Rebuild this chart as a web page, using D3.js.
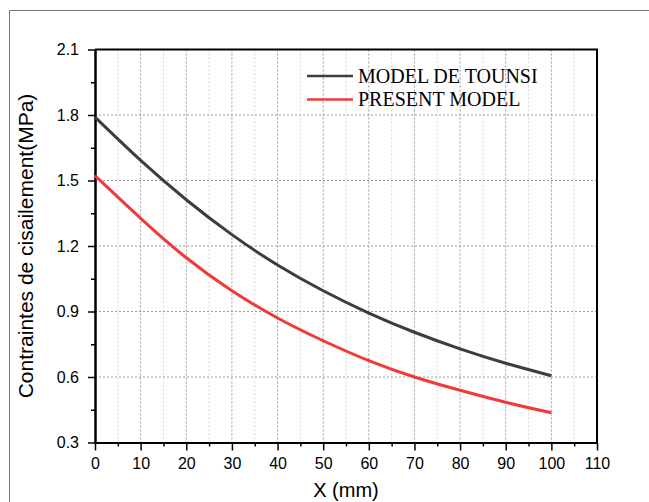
<!DOCTYPE html>
<html>
<head>
<meta charset="utf-8">
<script src="https://cdn.jsdelivr.net/npm/d3@7"></script>
<style>
  body { margin: 0; background: #fff; }
  svg { display: block; }
  .tick text { font-family: "Liberation Sans", Arial, sans-serif; font-size: 16px; fill: #000; }
</style>
</head>
<body>
<div id="chart"></div>
<script>
// data
var xValues = [0, 10, 20, 30, 40, 50, 60, 70, 80, 90, 100];
var tounsi  = [1.79, 1.592, 1.412, 1.252, 1.113, 0.995, 0.893, 0.805, 0.729, 0.663, 0.606];
var present = [1.522, 1.327, 1.146, 0.995, 0.870, 0.766, 0.675, 0.6, 0.539, 0.484, 0.436];

var seriesNames = ["MODEL DE TOUNSI", "PRESENT MODEL"];

var xTicks = [0, 10, 20, 30, 40, 50, 60, 70, 80, 90, 100, 110];
var xMinor = [5, 15, 25, 35, 45, 55, 65, 75, 85, 95, 105];
var yTicks = [0.3, 0.6, 0.9, 1.2, 1.5, 1.8, 2.1];
var yMinor = [0.45, 0.75, 1.05, 1.35, 1.65, 1.95];

var W = 649, H = 502;
var margin = {top: 49.5, right: 52, bottom: 59.5, left: 95};
var width = W - margin.left - margin.right,
    height = H - margin.top - margin.bottom;

var colBlack = "#3d3d3d", colRed = "#f03a3a";

var root = d3.select("#chart").append("svg")
  .attr("width", W)
  .attr("height", H);

// outer frame (only top and left show)
root.append("path")
  .attr("d", "M9.5," + H + "V10.5H" + W)
  .attr("fill", "none")
  .attr("stroke", "#777")
  .attr("stroke-width", 1);

var svg = root.append("g")
  .attr("transform", "translate(" + margin.left + "," + margin.top + ")");

var x = d3.scaleLinear().domain([0, 110]).range([0, width]);
var y = d3.scaleLinear().domain([0.3, 2.1]).range([height, 0]);

///////////////////////////// grid
svg.append("g")
  .selectAll("line")
  .data(xMinor)
  .join("line")
    .attr("x1", d => x(d)).attr("x2", d => x(d))
    .attr("y1", 0).attr("y2", height)
    .attr("stroke", "#d6d6d6")
    .attr("stroke-dasharray", "2,2");

svg.append("g")
  .selectAll("line")
  .data(xTicks.slice(1, -1))
  .join("line")
    .attr("x1", d => x(d)).attr("x2", d => x(d))
    .attr("y1", 0).attr("y2", height)
    .attr("stroke", "#9a9a9a")
    .attr("stroke-dasharray", "2,2");

svg.append("g")
  .selectAll("line")
  .data(yTicks.slice(1, -1))
  .join("line")
    .attr("x1", 0).attr("x2", width)
    .attr("y1", d => y(d)).attr("y2", d => y(d))
    .attr("stroke", "#9a9a9a")
    .attr("stroke-dasharray", "2,2");

///////////////////////////// axes
svg.append("g")
  .attr("transform", "translate(0," + height + ")")
  .call(d3.axisBottom(x).tickValues(xTicks).tickSize(8).tickPadding(7).tickSizeOuter(0));
svg.append("g")
  .attr("transform", "translate(0," + height + ")")
  .call(d3.axisBottom(x).tickValues(xMinor).tickSize(4).tickFormat("").tickSizeOuter(0));

svg.append("g")
  .call(d3.axisLeft(y).tickValues(yTicks).tickSize(7).tickPadding(9).tickSizeOuter(0)
    .tickFormat(d3.format(".1f")));
svg.append("g")
  .call(d3.axisLeft(y).tickValues(yMinor).tickSize(4).tickFormat("").tickSizeOuter(0));

svg.selectAll(".domain").attr("stroke", "#000").attr("stroke-width", 2);
svg.selectAll(".tick line").attr("stroke", "#000").attr("stroke-width", 1.5);

// top and right frame
svg.append("path")
  .attr("d", "M0,0H" + width + "V" + height)
  .attr("fill", "none")
  .attr("stroke", "#000")
  .attr("stroke-width", 2);

///////////////////////////// lines
var line = d3.line()
  .x(d => x(d[0]))
  .y(d => y(d[1]))
  .curve(d3.curveNatural);

[[tounsi, colBlack], [present, colRed]].forEach(function(s) {
  svg.append("path")
    .datum(xValues.map((v, i) => [v, s[0][i]]))
    .attr("fill", "none")
    .attr("stroke", s[1])
    .attr("stroke-width", 3)
    .attr("d", line);
});

///////////////////////////// legend
var legend = svg.append("g").attr("transform", "translate(" + (307 - margin.left) + "," + (76 - margin.top) + ")");
[[seriesNames[0], colBlack], [seriesNames[1], colRed]].forEach(function(s, i) {
  legend.append("line")
    .attr("x1", 0).attr("x2", 46)
    .attr("y1", i * 23.5).attr("y2", i * 23.5)
    .attr("stroke", s[1])
    .attr("stroke-width", 2.5);
  legend.append("text")
    .attr("x", 51)
    .attr("y", i * 23.5 + 6.5)
    .attr("font-family", "'Liberation Serif', 'Times New Roman', serif")
    .attr("font-size", "20px")
    .attr("fill", "#000")
    .text(s[0]);
});

///////////////////////////// axis titles
svg.append("text")
  .attr("x", width / 2)
  .attr("y", H - margin.top - 5)
  .attr("text-anchor", "middle")
  .attr("font-family", "'Liberation Sans', Arial, sans-serif")
  .attr("font-size", "20px")
  .text("X (mm)");

svg.append("text")
  .attr("transform", "translate(" + (33 - margin.left) + "," + (height / 2) + ") rotate(-90)")
  .attr("text-anchor", "middle")
  .attr("font-family", "'Liberation Sans', Arial, sans-serif")
  .attr("font-size", "21px")
  .text("Contraintes de cisailement(MPa)");
</script>
</body>
</html>
